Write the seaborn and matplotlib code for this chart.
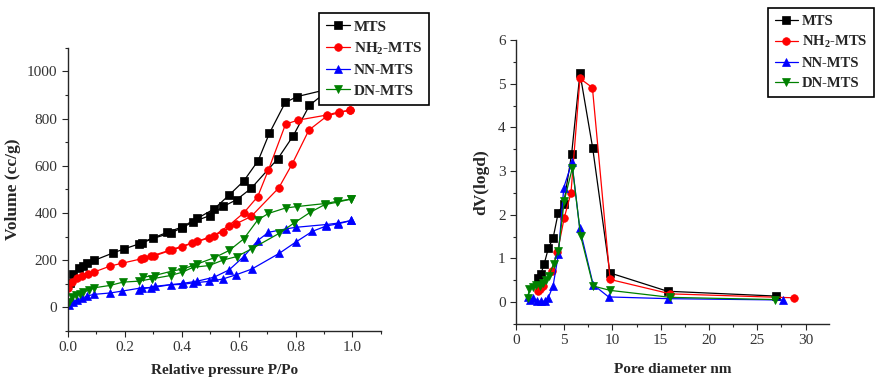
import numpy as np
import pandas as pd
import matplotlib
matplotlib.use("Agg")
import matplotlib.pyplot as plt
from matplotlib.ticker import MultipleLocator
import seaborn as sns

# ===== DADOS: ISOTERMAS (P/Po, volume cc/g) =====
mts_ads_x = [0.008, 0.02, 0.04, 0.052, 0.069, 0.093, 0.158, 0.199, 0.261, 0.30, 0.361, 0.402,
             0.441, 0.5, 0.547, 0.593, 0.644, 0.738, 0.792, 0.849, 0.9, 0.95, 0.99]
mts_ads_y = [103, 142, 166, 177, 189, 199, 230, 248, 273, 292, 315, 337,
             363, 389, 428, 456, 504, 630, 727, 856, 905, 930, 945]
mts_des_x = [0.99, 0.95, 0.9, 0.806, 0.764, 0.708, 0.669, 0.618, 0.567, 0.514, 0.455, 0.40, 0.35, 0.249]
mts_des_y = [945, 935, 920, 893, 868, 737, 622, 535, 476, 417, 377, 340, 318, 270]

nh2_ads_x = [0.002, 0.014, 0.034, 0.049, 0.071, 0.091, 0.149, 0.191, 0.267, 0.302, 0.367, 0.402,
             0.438, 0.496, 0.544, 0.591, 0.644, 0.741, 0.788, 0.847, 0.911, 0.953, 0.99]
nh2_ads_y = [83, 107, 124, 134, 142, 149, 175, 187, 208, 217, 244, 256,
             273, 294, 321, 354, 385, 506, 607, 751, 811, 825, 835]
nh2_des_x = [0.99, 0.953, 0.911, 0.808, 0.765, 0.705, 0.667, 0.618, 0.565, 0.514, 0.455, 0.355, 0.293, 0.258]
nh2_des_y = [835, 828, 815, 793, 776, 583, 469, 400, 346, 304, 280, 241, 217, 207]

nn_ads_x = [0.005, 0.018, 0.034, 0.049, 0.069, 0.091, 0.149, 0.191, 0.261, 0.293, 0.361, 0.402,
            0.441, 0.496, 0.544, 0.591, 0.646, 0.743, 0.80, 0.859, 0.908, 0.95, 0.996]
nn_ads_y = [8, 23, 32, 39, 48, 55, 61, 69, 83, 83, 96, 97,
            104, 110, 120, 138, 162, 229, 276, 322, 345, 354, 368]
nn_des_x = [0.996, 0.95, 0.908, 0.80, 0.765, 0.705, 0.667, 0.618, 0.567, 0.514, 0.455, 0.405, 0.305, 0.249]
nn_des_y = [368, 357, 351, 339, 332, 318, 283, 215, 159, 128, 111, 102, 89, 75]

dn_ads_x = [0.005, 0.014, 0.029, 0.044, 0.055, 0.073, 0.093, 0.149, 0.194, 0.249, 0.296, 0.361,
            0.402, 0.441, 0.496, 0.547, 0.593, 0.646, 0.743, 0.793, 0.852, 0.902, 0.944, 0.996]
dn_ads_y = [23, 44, 51, 58, 65, 72, 83, 93, 107, 111, 121, 135,
            149, 170, 177, 201, 215, 248, 314, 356, 403, 435, 445, 459]
dn_des_x = [0.996, 0.949, 0.905, 0.805, 0.765, 0.705, 0.667, 0.618, 0.567, 0.514, 0.455, 0.406, 0.367, 0.305, 0.265]
dn_des_y = [459, 450, 440, 427, 421, 398, 370, 290, 241, 210, 184, 163, 154, 135, 128]

# ===== DADOS: DISTRIBUIÇÃO DE POROS (nm, dV(logd)) =====
mts_pd_x = [2.31, 2.59, 2.93, 3.35, 3.85, 4.38, 4.95, 5.77, 6.63, 7.94, 9.73, 15.7, 26.9]
mts_pd_y = [0.55, 0.65, 0.88, 1.23, 1.47, 2.05, 2.25, 3.40, 5.24, 3.54, 0.67, 0.25, 0.14]
nh2_pd_x = [2.3, 2.49, 2.76, 3.7, 4.3, 5.0, 5.7, 6.63, 7.92, 9.75, 16.0, 28.8]
nh2_pd_y = [0.25, 0.30, 0.37, 0.72, 1.15, 1.93, 2.50, 5.12, 4.91, 0.52, 0.19, 0.10]
nn_pd_x = [1.2, 1.5, 1.8, 2.2, 2.6, 3.0, 3.35, 3.85, 4.4, 4.95, 5.8, 6.6, 8.0, 9.6, 15.8, 27.7]
nn_pd_y = [0.12, 0.06, 0.10, 0.02, 0.02, 0.02, 0.10, 0.38, 1.10, 2.62, 3.20, 1.70, 0.40, 0.12, 0.08, 0.05]
dn_pd_x = [1.2, 1.4, 1.8, 2.1, 2.5, 2.8, 3.1, 3.4, 3.9, 4.4, 5.0, 5.85, 6.7, 8.0, 9.75, 16.0, 26.8]
dn_pd_y = [0.10, 0.30, 0.35, 0.40, 0.38, 0.45, 0.50, 0.60, 0.88, 1.18, 2.32, 3.08, 1.52, 0.37, 0.27, 0.11, 0.06]

labels = ["MTS", r"NH$_2$-MTS", "NN-MTS", "DN-MTS"]
cores = ["black", "red", "blue", "#008000"]
marcadores = ["s", "o", "^", "v"]

# ===== ESTILO =====
sns.set_style("ticks")
plt.rcParams["font.family"] = ["Liberation Serif", "DejaVu Serif"]
plt.rcParams["mathtext.fontset"] = "custom"
plt.rcParams["mathtext.rm"] = "Liberation Serif:bold"
plt.rcParams["mathtext.bf"] = "Liberation Serif:bold"
plt.rcParams["mathtext.default"] = "bf"

fig = plt.figure(figsize=(8.76, 3.83), dpi=100)
ax1 = fig.add_axes([0.0773, 0.1358, 0.3576, 0.7397])
ax2 = fig.add_axes([0.589, 0.154, 0.357, 0.7415])


def desenhar(ax, x, y, cor, marc, label=None):
    df = pd.DataFrame({"x": x, "y": y})
    sns.lineplot(data=df, x="x", y="y", ax=ax, sort=False, estimator=None,
                 color=cor, marker=marc, markersize=5.5, markeredgewidth=0.5,
                 markeredgecolor=cor, linewidth=0.9, label=label, legend=False)


# ===== ISOTERMAS =====
isotermas = [
    (mts_ads_x, mts_ads_y, mts_des_x, mts_des_y),
    (nh2_ads_x, nh2_ads_y, nh2_des_x, nh2_des_y),
    (nn_ads_x, nn_ads_y, nn_des_x, nn_des_y),
    (dn_ads_x, dn_ads_y, dn_des_x, dn_des_y),
]
for (ax_, ay_, dx_, dy_), lab, cor, marc in zip(isotermas, labels, cores, marcadores):
    desenhar(ax1, ax_, ay_, cor, marc, lab)
    desenhar(ax1, dx_, dy_, cor, marc)

# ===== POROS =====
poros = [(mts_pd_x, mts_pd_y), (nh2_pd_x, nh2_pd_y), (nn_pd_x, nn_pd_y), (dn_pd_x, dn_pd_y)]
for (px, py), lab, cor, marc in zip(poros, labels, cores, marcadores):
    desenhar(ax2, px, py, cor, marc, lab)

ax1.set_xlim(0, 1.1)
ax1.set_ylim(-100, 1100)
ax1.xaxis.set_major_locator(MultipleLocator(0.2))
ax1.xaxis.set_minor_locator(MultipleLocator(0.1))
ax1.yaxis.set_major_locator(MultipleLocator(200))
ax1.yaxis.set_minor_locator(MultipleLocator(100))
ax1.set_xticks([0, 0.2, 0.4, 0.6, 0.8, 1.0])
ax1.set_xticklabels(["0.0", "0.2", "0.4", "0.6", "0.8", "1.0"])
ax1.set_yticks([0, 200, 400, 600, 800, 1000])
ax1.set_xlabel("Relative pressure P/Po", fontweight="bold", fontsize=11, labelpad=7)
ax1.set_ylabel("Volume (cc/g)", fontweight="bold", fontsize=12.5, labelpad=4)

ax2.set_xlim(0, 32.4)
ax2.set_ylim(-0.5, 6)
ax2.xaxis.set_major_locator(MultipleLocator(5))
ax2.xaxis.set_minor_locator(MultipleLocator(2.5))
ax2.yaxis.set_major_locator(MultipleLocator(1))
ax2.yaxis.set_minor_locator(MultipleLocator(0.5))
ax2.set_xticks([0, 5, 10, 15, 20, 25, 30])
ax2.set_yticks([0, 1, 2, 3, 4, 5, 6])
ax2.set_xlabel("Pore diameter nm", fontweight="bold", fontsize=11, labelpad=11)
ax2.set_ylabel("dV(logd)", fontweight="bold", fontsize=12.5, labelpad=6)

for ax in (ax1, ax2):
    sns.despine(ax=ax)
    ax.spines["left"].set_linewidth(1.0)
    ax.spines["bottom"].set_linewidth(1.0)
    ax.tick_params(which="major", direction="out", length=4, width=0.8,
                   labelsize=11, labelcolor="#333333")
    ax.tick_params(which="minor", direction="out", length=2.5, width=0.8)

leg_kw = dict(frameon=True, fancybox=False, edgecolor="black", framealpha=1,
              facecolor="white", handlelength=1.6,
              handletextpad=0.25, labelspacing=0.45, borderpad=0.45, borderaxespad=0)
h1, l1 = ax1.get_legend_handles_labels()
leg1 = fig.legend(h1, l1, loc="upper left", bbox_to_anchor=(0.364, 0.966),
                  prop={"weight": "bold", "size": 11}, **leg_kw)
h2, l2 = ax2.get_legend_handles_labels()
leg2 = fig.legend(h2, l2, loc="upper left", bbox_to_anchor=(0.877, 0.979),
                  prop={"weight": "bold", "size": 10.5}, **leg_kw)
for leg in (leg1, leg2):
    leg.get_frame().set_linewidth(1.2)
    leg.set_zorder(10)

fig.savefig("out.png", dpi=100, facecolor="white")
